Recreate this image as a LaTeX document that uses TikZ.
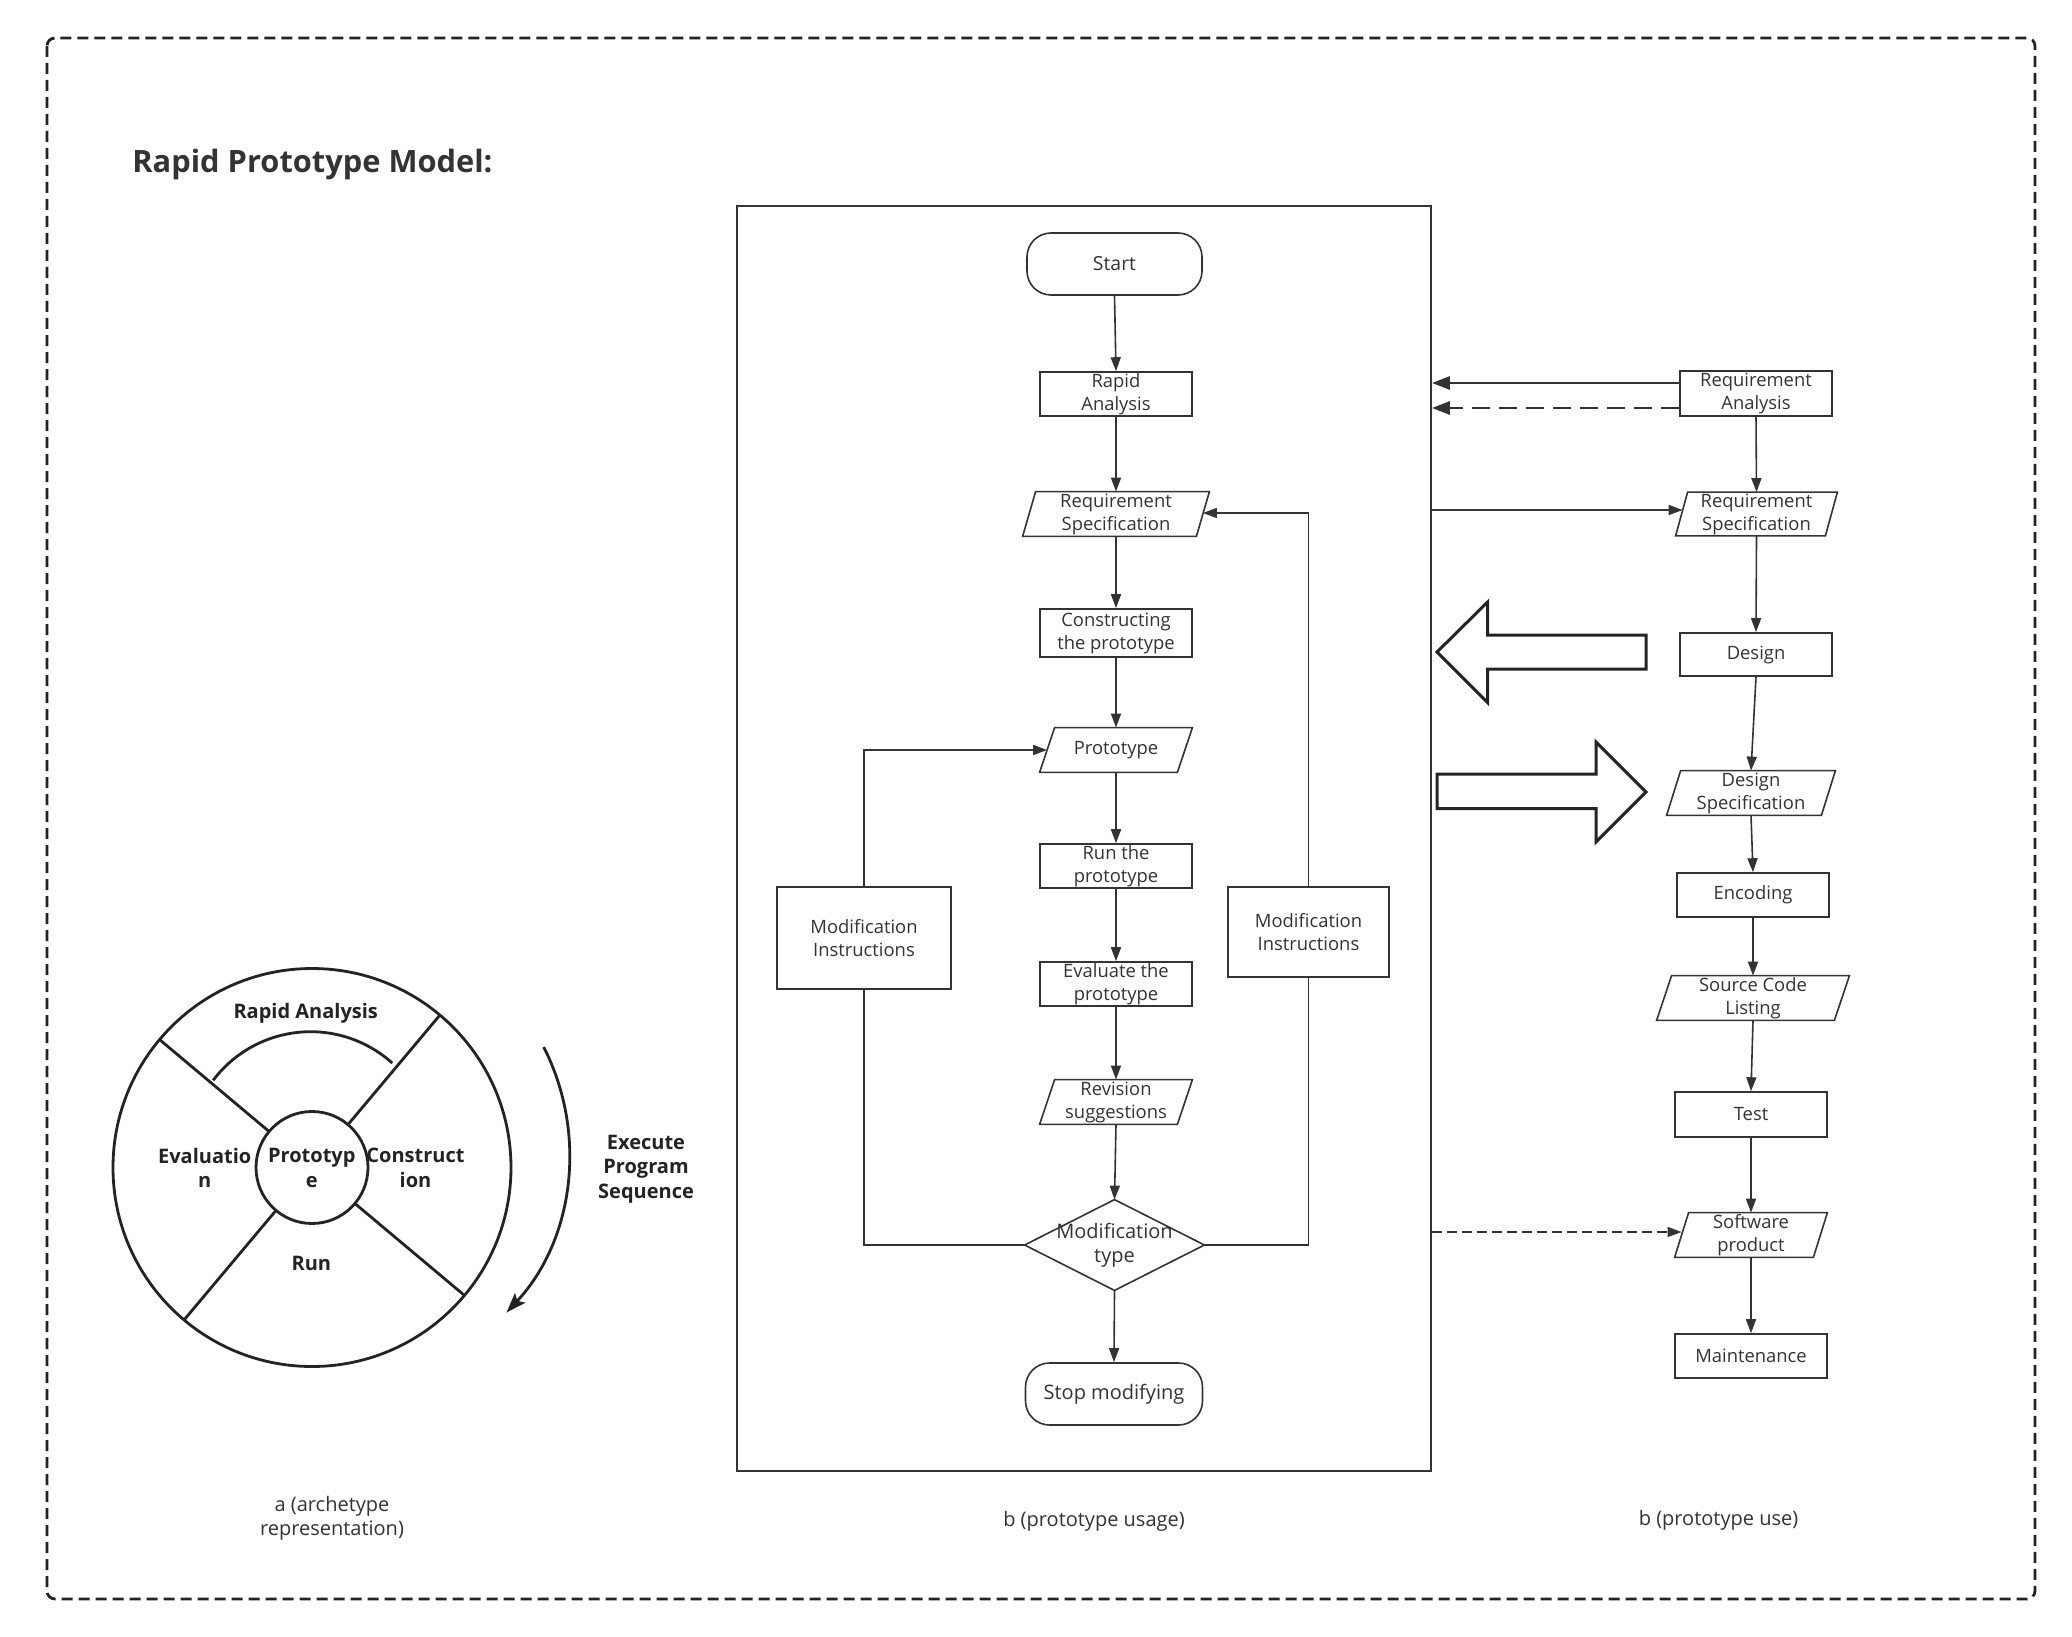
\documentclass[tikz,border=0pt]{standalone}
\usepackage{fontspec}
\setmainfont{Open Sans}
\usetikzlibrary{arrows.meta,calc}
\definecolor{ink}{HTML}{333333}
\definecolor{deep}{HTML}{232323}
\newcommand{\myNodeFont}{\fontsize{9.2pt}{11.5pt}\selectfont}
\newcommand{\myBigFont}{\fontsize{10pt}{12pt}\selectfont}
\newcommand{\myBoldFont}{\fontsize{10pt}{12.2pt}\selectfont\bfseries}
\newcommand{\myTitleFont}{\fontsize{15.4pt}{18pt}\selectfont\bfseries}
\begin{document}
\begin{tikzpicture}[x=0.5pt,y=-0.5pt,
  every node/.style={text=ink, inner sep=0pt, align=center},
  box/.style={draw=ink, line width=0.8pt, minimum width=76pt, minimum height=22pt, font=\myNodeFont},
  para/.style={minimum width=76pt, minimum height=22pt, font=\myNodeFont},
  term/.style={draw=ink, line width=0.8pt, rounded corners=12pt},
  conn/.style={draw=ink, line width=0.8pt, -{Triangle[length=7pt,width=5pt]}},
  plain/.style={draw=ink, line width=0.8pt},
  thk/.style={draw=ink, line width=1.4pt, -{Triangle[length=9pt,width=6.5pt]}},
  wl/.style={draw=deep, line width=1.4pt},
  bigarrow/.style={draw=deep, line width=1.5pt, line join=miter},
  lbl/.style={font=\myBoldFont, text=deep},
  captext/.style={font=\myBigFont}
]
\fill[white] (0,0) rectangle (2072,1637);
\useasboundingbox (0,0) rectangle (2072,1637);

% outer dashed border
\draw[draw=deep, line width=1.4pt, dash pattern=on 5.5pt off 3pt, rounded corners=4pt] (47,38) rectangle (2035,1599);

\node[font=\myTitleFont, anchor=base west] (title) at (132,172.7) {Rapid Prototype Model:};

% ---------- middle frame ----------
\node[draw=ink, line width=0.9pt, minimum width=347pt, minimum height=632.5pt] (frame) at (1084,838.5) {};

\node[term, minimum width=87.5pt, minimum height=31pt, font=\fontsize{9.7pt}{12pt}\selectfont] (start) at (1114.5,264) {Start};
\node[box] (ra) at (1116,394) {Rapid\\Analysis};
\node[para, minimum width=93pt] (rs) at (1116,514) {Requirement\\Specification};
\node[box, minimum height=24pt] (cp) at (1116,633) {Constructing\\the prototype};
\node[para] (proto) at (1116,750) {Prototype};
\node[box] (run) at (1116,866) {Run the\\prototype};
\node[box] (eval) at (1116,984) {Evaluate the\\prototype};
\node[para] (rev) at (1116,1102) {Revision\\suggestions};
\node[minimum width=89.5pt, minimum height=45pt, font=\myBigFont] (dia) at (1114.5,1245) {Modification\\type};
\node[term, minimum width=88.5pt, minimum height=31pt, font=\myBigFont] (stop) at (1114,1394) {Stop modifying};
\node[box, minimum width=87pt, minimum height=51pt] (ml) at (864,938) {Modification\\Instructions};
\node[box, minimum width=80.5pt, minimum height=45pt] (mr) at (1308.5,932) {Modification\\Instructions};

% ---------- right column ----------
\node[box, minimum height=22.5pt] (rra) at (1756,393.5) {Requirement\\Analysis};
\node[para, minimum width=80.5pt, minimum height=21.5pt] (rrs) at (1756.5,514) {Requirement\\Specification};
\node[box, minimum height=21.5pt] (des) at (1756,654.5) {Design};
\node[para, minimum width=84pt] (dspec) at (1751,793) {Design\\Specification};
\node[box] (enc) at (1753,895) {Encoding};
\node[para, minimum width=96pt] (scl) at (1753,998) {Source Code\\Listing};
\node[box, minimum height=22.5pt] (test) at (1751,1114.5) {Test};
\node[para] (sp) at (1751,1235) {Software\\product};
\node[box] (maint) at (1751,1356) {Maintenance};

% parallelogram outlines
\foreach \n/\s in {rs/6.5pt, proto/7.5pt, rev/7.5pt, rrs/6pt, dspec/7pt, scl/7.5pt, sp/7pt}
  \draw[plain] ([xshift=\s]\n.north west) -- (\n.north east) -- ([xshift=-\s]\n.south east) -- (\n.south west) -- cycle;
% diamond outline
\draw[plain] (dia.north) -- (dia.east) -- (dia.south) -- (dia.west) -- cycle;

% middle connectors
\draw[conn] (start.south) -- (ra.north);
\draw[conn] (ra.south) -- (rs.north);
\draw[conn] (rs.south) -- (cp.north);
\draw[conn] (cp.south) -- (proto.north);
\draw[conn] (proto.south) -- (run.north);
\draw[conn] (run.south) -- (eval.north);
\draw[conn] (eval.south) -- (rev.north);
\draw[conn] (rev.south) -- (dia.north);
\draw[conn] (dia.south) -- (stop.north);
\draw[plain] (dia.west) -| (ml.south);
\draw[conn] (ml.north) |- ([xshift=3.75pt]proto.west);
\draw[plain] (dia.east) -| (mr.south);
\draw[conn] (mr.north) |- ([xshift=-3.25pt,yshift=0.5pt]rs.east);

% right connectors
\draw[conn] (rra.south) -- (rrs.north);
\draw[conn] (rrs.south) -- (des.north);
\draw[conn] (des.south) -- (dspec.north);
\draw[conn] (dspec.south) -- (enc.north);
\draw[conn] (enc.south) -- (scl.north);
\draw[conn] (scl.south) -- (test.north);
\draw[conn] (test.south) -- (sp.north);
\draw[conn] (sp.south) -- (maint.north);

% links between frame and right column
\draw[thk] ([yshift=5.25pt]rra.west) -- ([yshift=5.25pt]rra.west -| frame.east);
\draw[thk, dash pattern=on 9pt off 4.5pt] ([yshift=-7.25pt]rra.west) -- ([yshift=-7.25pt]rra.west -| frame.east);
\draw[conn] ([yshift=2pt]rrs.west -| frame.east) -- ([xshift=3.5pt,yshift=2pt]rrs.west);
\draw[conn, dash pattern=on 5pt off 2.5pt] ([yshift=1.5pt]sp.west -| frame.east) -- ([xshift=3.5pt,yshift=1.5pt]sp.west);

% big hollow arrows
\draw[bigarrow] (1437,652) -- (1487.6,602) -- (1487.6,635) -- (1646,635) -- (1646,669) -- (1487.6,669) -- (1487.6,702.5) -- cycle;
\draw[bigarrow] (1646,792) -- (1596,742) -- (1596,774) -- (1437,774) -- (1437,808.6) -- (1596,808.6) -- (1596,842) -- cycle;

% ---------- wheel ----------
\coordinate (wc) at (312,1167.5);
\draw[wl] (wc) circle[radius=99.5pt];
\draw[wl] (wc) circle[radius=28pt];
\foreach \a in {140,50,-40,-130}
  \draw[wl] ([shift={(\a:28pt)}]wc) -- ([shift={(\a:99.5pt)}]wc);
\coordinate (ac) at (310.6,1153.7);
\draw[wl] ([shift={(48:61pt)}]ac) arc[start angle=48, end angle=143, radius=61pt];
\coordinate (cc) at (335.5,1153.2);
\draw[wl, -{Stealth[length=10pt,width=7pt,inset=2pt]}] ([shift={(27:116.85pt)}]cc) arc[start angle=27, end angle=-43, radius=116.85pt];

\node[lbl] (wra) at (305.7,1013) {Rapid Analysis};
\node[lbl] (wev) at (204.7,1168) {Evaluatio\\n};
\node[lbl] (wpr) at (311.8,1168) {Prototyp\\e};
\node[lbl] (wco) at (415.5,1168) {Construct\\ion};
\node[lbl] (wru) at (311.4,1263) {Run};
\node[lbl] (exe) at (646,1169) {Execute\\Program\\Sequence};

% captions
\node[captext] (capa) at (332,1518) {a (archetype\\representation)};
\node[captext] (capb) at (1094,1521) {b (prototype usage)};
\node[captext] (capc) at (1718.5,1520) {b (prototype use)};
\end{tikzpicture}
\end{document}
